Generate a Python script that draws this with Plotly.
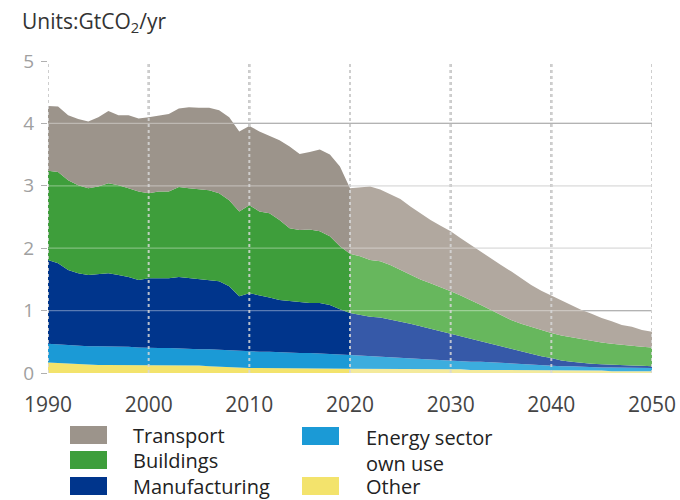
import plotly.graph_objects as go

years = list(range(1990, 2051))

other = [0.17, 0.16, 0.15, 0.14, 0.13, 0.13, 0.13, 0.13, 0.13, 0.13,
         0.13, 0.13, 0.12, 0.12, 0.12, 0.12, 0.11, 0.10, 0.09, 0.08,
         0.08, 0.08, 0.08, 0.07, 0.07, 0.07, 0.07, 0.07, 0.07, 0.07,
         0.07, 0.07, 0.07, 0.07, 0.06, 0.06, 0.06, 0.06, 0.06, 0.06,
         0.06, 0.06, 0.05, 0.05, 0.05, 0.05, 0.05, 0.05, 0.04, 0.04,
         0.04, 0.04, 0.04, 0.04, 0.04, 0.04, 0.03, 0.03, 0.03, 0.03, 0.03]

energy = [0.30, 0.30, 0.29, 0.30, 0.30, 0.30, 0.30, 0.29, 0.29, 0.28,
          0.27, 0.27, 0.28, 0.27, 0.27, 0.26, 0.27, 0.27, 0.27, 0.27,
          0.27, 0.26, 0.26, 0.26, 0.26, 0.25, 0.25, 0.24, 0.24, 0.23,
          0.22, 0.21, 0.20, 0.19, 0.19, 0.18, 0.17, 0.16, 0.16, 0.15,
          0.14, 0.13, 0.13, 0.13, 0.12, 0.11, 0.10, 0.09, 0.10, 0.09,
          0.08, 0.07, 0.07, 0.06, 0.06, 0.05, 0.06, 0.06, 0.05, 0.05, 0.05]

manufacturing = [1.34, 1.30, 1.21, 1.16, 1.14, 1.16, 1.17, 1.15, 1.12, 1.08,
                 1.12, 1.12, 1.12, 1.15, 1.13, 1.12, 1.11, 1.10, 1.03, 0.88,
                 0.93, 0.91, 0.87, 0.84, 0.82, 0.82, 0.80, 0.81, 0.78, 0.72,
                 0.67, 0.65, 0.63, 0.63, 0.61, 0.59, 0.56, 0.53, 0.49, 0.46,
                 0.43, 0.40, 0.36, 0.33, 0.30, 0.26, 0.23, 0.21, 0.17, 0.14,
                 0.12, 0.09, 0.07, 0.06, 0.05, 0.05, 0.04, 0.035, 0.04, 0.035, 0.03]

buildings = [1.43, 1.46, 1.44, 1.41, 1.39, 1.40, 1.44, 1.44, 1.42, 1.42,
             1.36, 1.39, 1.39, 1.44, 1.44, 1.44, 1.44, 1.41, 1.38, 1.36,
             1.41, 1.34, 1.35, 1.28, 1.17, 1.15, 1.18, 1.15, 1.10, 1.01,
             0.95, 0.94, 0.91, 0.90, 0.87, 0.82, 0.78, 0.75, 0.73, 0.71,
             0.68, 0.65, 0.63, 0.58, 0.54, 0.51, 0.47, 0.44, 0.43, 0.41,
             0.40, 0.40, 0.39, 0.38, 0.36, 0.35, 0.34, 0.325, 0.31, 0.305, 0.30]

transport = [1.04, 1.05, 1.04, 1.06, 1.07, 1.11, 1.16, 1.12, 1.17, 1.17,
             1.22, 1.22, 1.24, 1.26, 1.30, 1.31, 1.32, 1.33, 1.33, 1.28,
             1.27, 1.28, 1.24, 1.28, 1.31, 1.22, 1.24, 1.31, 1.31, 1.28,
             1.05, 1.10, 1.18, 1.15, 1.14, 1.14, 1.10, 1.06, 1.01, 0.98,
             0.96, 0.92, 0.88, 0.86, 0.83, 0.80, 0.78, 0.73, 0.67, 0.64,
             0.60, 0.56, 0.51, 0.47, 0.44, 0.39, 0.36, 0.32, 0.31, 0.27, 0.25]

series_names = ["Other", "Energy sector own use", "Manufacturing", "Buildings", "Transport"]
series_values = [other, energy, manufacturing, buildings, transport]
hist_colors = ["#f3e36c", "#1b9ad6", "#00358c", "#3e9e3b", "#9c948b"]
proj_colors = ["#f4ea9c", "#3cadde", "#3659a8", "#67b75d", "#b1a89f"]

x_ticks = [1990, 2000, 2010, 2020, 2030, 2040, 2050]
y_ticks = [0, 1, 2, 3, 4, 5]
split_year = 2020

fig = go.Figure()
si = years.index(split_year)
for name, vals, hc in zip(series_names, series_values, hist_colors):
    fig.add_trace(go.Scatter(x=years[:si + 1], y=vals[:si + 1], stackgroup="hist",
                             mode="lines", line=dict(width=0), fillcolor=hc,
                             name=name, showlegend=False))
for name, vals, pc in zip(series_names, series_values, proj_colors):
    fig.add_trace(go.Scatter(x=years[si:], y=vals[si:], stackgroup="proj",
                             mode="lines", line=dict(width=0), fillcolor=pc,
                             name=name, showlegend=False))

# plot area in pixels
L, R, T, B = 48, 652, 61, 373
W, H = R - L, B - T


def px(x):
    return (x - L) / W


def py(y):
    return (B - y) / H


shapes = []
# horizontal grid lines (below and above traces)
for v in [1, 2, 3, 4]:
    col = "#8a8a8a" if v in (1, 4) else "#cfcfcf"
    shapes.append(dict(type="line", xref="paper", yref="y", x0=0, x1=1, y0=v, y1=v,
                       line=dict(color=col, width=1.3), layer="below"))
    shapes.append(dict(type="line", xref="paper", yref="y", x0=0, x1=1, y0=v, y1=v,
                       line=dict(color="rgba(255,255,255,0.35)", width=1.3), layer="above"))
# vertical dotted lines
for xv in x_ticks:
    shapes.append(dict(type="line", xref="x", yref="y", x0=xv, x1=xv, y0=0, y1=5,
                       line=dict(color="#9a9a9a", width=2, dash="dot"), layer="below"))
    shapes.append(dict(type="line", xref="x", yref="y", x0=xv, x1=xv, y0=0, y1=5,
                       line=dict(color="rgba(215,215,215,0.85)", width=2, dash="dot"), layer="above"))

# manual legend: (text, colour, swatch left, swatch top, text x, text centre)
legend_items = [
    ("Transport", hist_colors[4], 70, 426, 133, 435),
    ("Buildings", hist_colors[3], 70, 451, 133, 461),
    ("Manufacturing", hist_colors[2], 70, 477, 133, 486),
    ("Energy sector<br>own use", hist_colors[1], 302, 427, 366, 450),
    ("Other", hist_colors[0], 302, 477, 366, 486),
]
annotations = []
for text, col, sx, sy, tx, cy in legend_items:
    shapes.append(dict(type="rect", xref="paper", yref="paper",
                       x0=px(sx), x1=px(sx + 37), y0=py(sy), y1=py(sy + 18),
                       fillcolor=col, line=dict(width=0), layer="above"))
    annotations.append(dict(xref="paper", yref="paper", x=px(tx - 2), y=py(cy),
                            text=text, showarrow=False, xanchor="left", align="left",
                            yanchor="middle", font=dict(size=20, color="#222222")))

annotations.append(dict(xref="paper", yref="paper", x=px(20), y=py(22),
                        text="Units:GtCO<sub>2</sub>/yr", showarrow=False,
                        xanchor="left", yanchor="middle",
                        font=dict(size=21, color="#333333")))

fig.update_layout(
    width=680, height=500,
    margin=dict(l=L, r=680 - R, t=T, b=500 - B, pad=0, autoexpand=False),
    paper_bgcolor="white", plot_bgcolor="white",
    font=dict(family="Open Sans, sans-serif"),
    shapes=shapes, annotations=annotations,
    showlegend=False,
    xaxis=dict(range=[1990, 2050], tickvals=x_ticks, showgrid=False, zeroline=False,
               showline=False, ticks="", tickfont=dict(size=21, color="#444444"),
               ticklabelstandoff=17, fixedrange=True, automargin=False),
    yaxis=dict(range=[0, 5], tickvals=y_ticks, showgrid=False, zeroline=False,
               showline=False, ticks="outside", ticklen=6, tickcolor="#b0b0b0",
               tickfont=dict(size=19, color="#a0a0a0"), ticklabelstandoff=3,
               fixedrange=True, automargin=False),
)

fig.write_html("out.html", config={"displayModeBar": False},
               post_script="document.body.style.margin='0px';document.body.style.overflow='hidden';")
